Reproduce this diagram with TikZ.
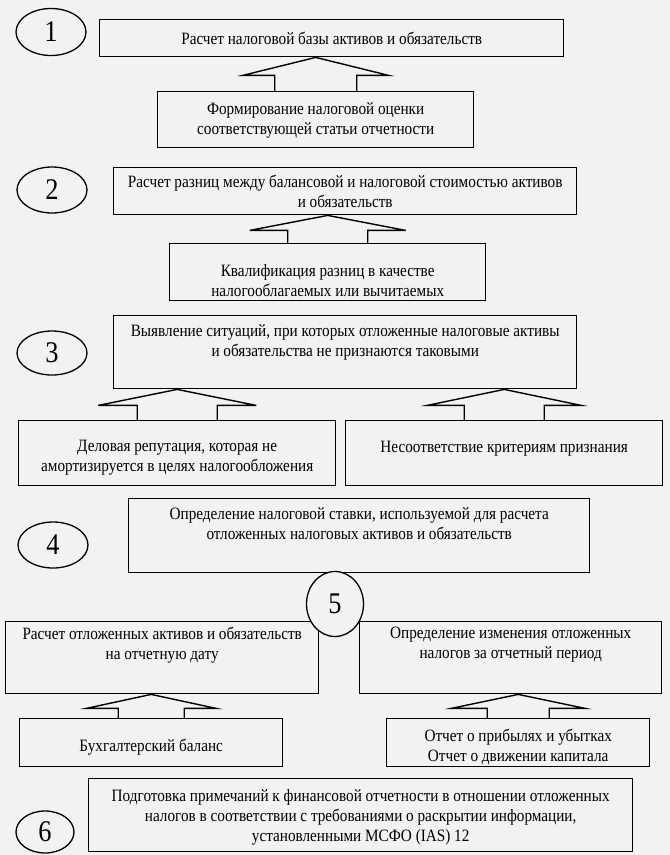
\documentclass[tikz,border=0pt]{standalone}
\usepackage{fontspec}
\setmainfont{Liberation Serif}[FakeStretch=0.88]
\usetikzlibrary{calc,positioning,shapes.geometric}
\definecolor{paper}{gray}{0.95}
\newcommand{\blockarrow}[5]{\draw[blk] ($(#1.north)+(-#4,0)$) |- ($(#1.north |- #2.south)+(-#3,#5)$) -- (#1.north |- #2.south) -- ($(#1.north |- #2.south)+(#3,#5)$) -| ($(#1.north)+(#4,0)$);}

\begin{document}
\begin{tikzpicture}[x=1pt,y=-1pt,
    box/.style={draw,line width=1.4pt,anchor=north west,inner sep=0pt},
    txt/.style={align=center,inner sep=0pt,font=\fontsize{17.3}{20}\selectfont},
    num/.style={draw,ellipse,fill=paper,line width=1.3pt,inner sep=0pt,font=\fontsize{30}{30}\selectfont},
    blk/.style={line width=1.4pt,line join=miter}]
    \fill[paper] (0,0) rectangle (670,855);

    \node[box,minimum width=464pt,minimum height=37pt] (b1) at (99,19) {};
    \node[box,minimum width=316pt,minimum height=56pt] (s1) at (157,91) {};
    \node[box,minimum width=463pt,minimum height=47pt] (b2) at (113,167) {};
    \node[box,minimum width=316pt,minimum height=57pt] (s2) at (169,243) {};
    \node[box,minimum width=463pt,minimum height=73pt] (b3) at (113,315) {};
    \node[box,minimum width=317pt,minimum height=65pt] (l3) at (18,420) {};
    \node[box,minimum width=317pt,minimum height=65pt] (r3) at (345,420) {};
    \node[box,minimum width=461pt,minimum height=74pt] (b4) at (128,498) {};
    \node[box,minimum width=313pt,minimum height=72pt] (l5) at (5,621) {};
    \node[box,minimum width=302pt,minimum height=72pt] (r5) at (359,621) {};
    \node[box,minimum width=263pt,minimum height=48pt] (sl5) at (19,718) {};
    \node[box,minimum width=263pt,minimum height=48pt] (sr5) at (386,718) {};
    \node[box,minimum width=544pt,minimum height=73pt] (b6) at (88,778) {};

    \node[txt] (t1) at (b1) {Расчет налоговой базы активов и обязательств};
    \node[txt] (ts1) at ($(s1)+(0,1)$) {Формирование налоговой оценки\\соответствующей статьи отчетности};
    \node[txt] (t2) at (b2) {Расчет разниц между балансовой и налоговой стоимостью активов\\и обязательств};
    \node[txt] (ts2) at ($(s2)+(0,8)$) {Квалификация разниц в качестве\\налогооблагаемых или вычитаемых};
    \node[txt] (t3) at ($(b3)+(0,-10)$) {Выявление ситуаций, при которых отложенные налоговые активы\\и обязательства не признаются таковыми};
    \node[txt] (tl3) at ($(l3)+(0,4)$) {Деловая репутация, которая не\\амортизируется в целях налогообложения};
    \node[txt] (tr3) at ($(r3)+(0,-5)$) {Несоответствие критериям признания};
    \node[txt] (t4) at ($(b4)+(0,-12)$) {Определение налоговой ставки, используемой для расчета\\отложенных налоговых активов и обязательств};
    \node[txt] (tl5) at ($(l5)+(0,-13)$) {Расчет отложенных активов и обязательств\\на отчетную дату};
    \node[txt] (tr5) at ($(r5)+(0,-13)$) {Определение изменения отложенных\\налогов за отчетный период};
    \node[txt] (tsl5) at ($(sl5)+(0,4)$) {Бухгалтерский баланс};
    \node[txt] (tsr5) at ($(sr5)+(0,4)$) {Отчет о прибылях и убытках\\Отчет о движении капитала};
    \node[txt] (t6) at ($(b6)+(0,2)$) {Подготовка примечаний к финансовой отчетности в отношении отложенных\\налогов в соответствии с требованиями о раскрытии информации,\\установленными МСФО (IAS) 12};

    \blockarrow{s1}{b1}{73}{41}{18}
    \blockarrow{s2}{b2}{78}{40}{15}
    \blockarrow{l3}{b3}{79}{40}{16}
    \blockarrow{r3}{b3}{77}{40}{16}
    \blockarrow{sl5}{l5}{65}{33}{14}
    \blockarrow{sr5}{r5}{67}{31}{14}

    \node[num,minimum width=70pt,minimum height=47pt] (n1) at (51,32) {1};
    \node[num,minimum width=70pt,minimum height=46pt] (n2) at (52,190) {2};
    \node[num,minimum width=70pt,minimum height=44pt] (n3) at (52,353) {3};
    \node[num,minimum width=70pt,minimum height=46pt] (n4) at (53,545) {4};
    \node[num,minimum width=57pt,minimum height=65pt] (n5) at (335,604) {5};
    \node[num,minimum width=58pt,minimum height=42pt] (n6) at (45,832) {6};
\end{tikzpicture}
\end{document}
